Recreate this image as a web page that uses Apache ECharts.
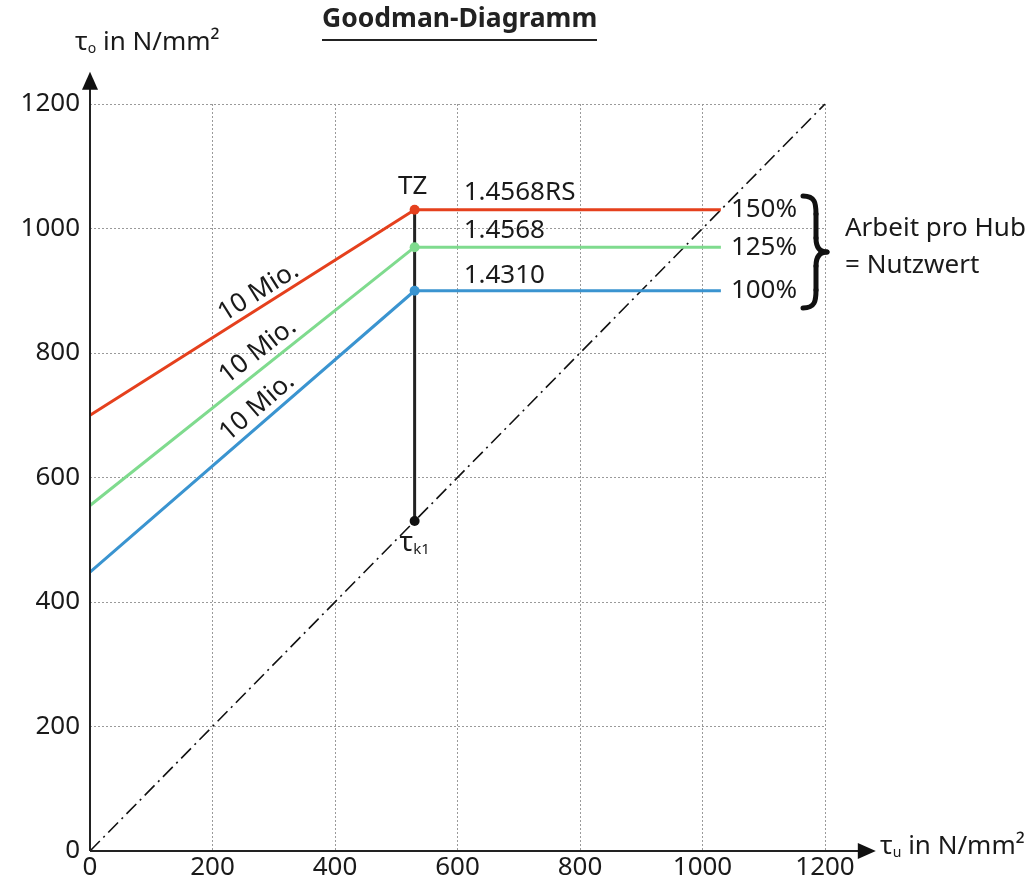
<!DOCTYPE html>
<html><head><meta charset="utf-8">
<script src="https://cdn.jsdelivr.net/npm/echarts@6/dist/echarts.min.js"></script>
<style>html,body{margin:0;padding:0;background:#fff}#c{width:1030px;height:884px}</style>
</head><body><div id="c"></div>
<script>
// ---- data ----
const xTicks = [0, 200, 400, 600, 800, 1000, 1200];
const yTicks = [0, 200, 400, 600, 800, 1000, 1200];
const redLine   = [[0, 700], [530, 1030], [1030, 1030]];
const greenLine = [[0, 555], [530, 970],  [1030, 970]];
const blueLine  = [[0, 448], [530, 900],  [1030, 900]];
const tzLine    = [[530, 1030], [530, 530]];
const diagonal  = [[0, 0], [1200, 1200]];
const levelLabels = ['150%', '125%', '100%'];
const cycleLabels = ['10 Mio.', '10 Mio.', '10 Mio.'];
const valueLabels = ['1.4568RS', '1.4568', '1.4310'];
const colors = ['#e5401d', '#7fdb8e', '#3a94d0'];

const FONT = 'Noto Sans';
const TXT = '#1a1a1a';
const FS = 26;

const chart = echarts.init(document.getElementById('c'), null, {renderer: 'canvas'});

function lineSeries(data, color, level) {
  return {
    type: 'line', data: data, z: 5,
    lineStyle: {color: color, width: 3},
    itemStyle: {color: color},
    symbol: 'circle', showAllSymbol: true,
    symbolSize: (v, p) => p.dataIndex === 1 ? 10 : 0,
    animation: false, clip: false,
    endLabel: {show: true, formatter: level, color: TXT, fontFamily: FONT, fontSize: FS, distance: 10}
  };
}

const sets = [redLine, greenLine, blueLine];
const series = sets.map((d, i) => lineSeries(d, colors[i], levelLabels[i]));

series.push({
  type: 'line', data: diagonal, z: 3, symbol: 'none', animation: false,
  lineStyle: {color: '#111', width: 1.6, type: [14, 5, 2, 5]}
});
series.push({
  type: 'line', data: tzLine, z: 4, animation: false,
  lineStyle: {color: '#222', width: 3},
  itemStyle: {color: '#111'},
  symbol: 'circle', showAllSymbol: true,
  symbolSize: (v, p) => p.dataIndex === 1 ? 10 : 0,
  label: {
    show: true, position: 'bottom', distance: 3,
    formatter: p => p.dataIndex === 1 ? '{t|τ}{k|k1}' : '',
    rich: {t: {fontSize: 28, fontFamily: FONT, color: TXT}, k: {fontSize: 15, fontFamily: FONT, color: TXT, verticalAlign: 'bottom', padding: [8, 0, 0, 0]}}
  }
});

// text annotations (positions in data space)
const annotations = [
  {value: [527, 1068], text: 'TZ', rot: 0, align: 'center'},
  {value: [610, 1057], text: valueLabels[0], rot: 0, align: 'left'},
  {value: [610, 996],  text: valueLabels[1], rot: 0, align: 'left'},
  {value: [610, 924],  text: valueLabels[2], rot: 0, align: 'left'},
  {value: [275, 898],  text: cycleLabels[0], rot: 32, align: 'center'},
  {value: [274, 803],  text: cycleLabels[1], rot: 38, align: 'center'},
  {value: [273, 713],  text: cycleLabels[2], rot: 41, align: 'center'}
];
series.push({
  type: 'scatter', symbolSize: 0, z: 10, animation: false, silent: true,
  itemStyle: {opacity: 1},
  data: annotations.map(a => ({
    value: a.value,
    label: {show: true, position: 'inside', formatter: a.text, rotate: a.rot, align: a.align,
            verticalAlign: 'middle', color: TXT, fontFamily: FONT, fontSize: FS}
  }))
});

const axisCommon = {
  type: 'value', min: 0, max: 1200, interval: 200,
  axisLine: {show: false}, axisTick: {show: false},
  splitLine: {show: true, lineStyle: {color: '#9a9a9a', width: 1, type: [2, 2]}},
  axisLabel: {color: TXT, fontFamily: FONT, fontSize: FS}
};

chart.setOption({
  backgroundColor: '#fff',
  animation: false,
  grid: {left: 90, right: 205, top: 104, bottom: 33, containLabel: false},
  xAxis: Object.assign({}, axisCommon, {axisLabel: Object.assign({}, axisCommon.axisLabel, {margin: 4,
    formatter: v => xTicks.includes(v) ? String(v) : ''})}),
  yAxis: Object.assign({}, axisCommon, {axisLabel: Object.assign({}, axisCommon.axisLabel, {margin: 10,
    formatter: v => yTicks.includes(v) ? String(v) : ''})}),
  series: series
});

// axes with arrows + decorations, positioned through the chart's scales
const o = chart.convertToPixel({gridIndex: 0}, [0, 0]);
const yTip = chart.convertToPixel({gridIndex: 0}, [0, 1252]);
const xTip = chart.convertToPixel({gridIndex: 0}, [1283, 0]);
const AX = '#222';
const braceStyle = {stroke: '#111', lineWidth: 5, fill: null, lineCap: 'round'};
const richName = {
  t: {fontSize: FS, fontFamily: FONT, fill: TXT},
  s: {fontSize: 14, fontFamily: FONT, fill: TXT, verticalAlign: 'bottom', padding: [9, 0, 0, 0]}
};
chart.setOption({
  graphic: [
    {type: 'line', shape: {x1: o[0], y1: o[1], x2: o[0], y2: yTip[1] + 16}, style: {stroke: AX, lineWidth: 2}, z: 20},
    {type: 'polygon', shape: {points: [[o[0], yTip[1]], [o[0] - 8, yTip[1] + 18], [o[0] + 8, yTip[1] + 18]]}, style: {fill: '#111'}, z: 20},
    {type: 'line', shape: {x1: o[0], y1: o[1], x2: xTip[0] - 16, y2: o[1]}, style: {stroke: AX, lineWidth: 2}, z: 20},
    {type: 'polygon', shape: {points: [[xTip[0], o[1]], [xTip[0] - 18, o[1] - 8], [xTip[0] - 18, o[1] + 8]]}, style: {fill: '#111'}, z: 20},
    // axis names
    {type: 'text', x: 75, y: 30, z: 20, style: {text: '{t|τ}{s|o}{t| in N/mm²}', rich: richName}},
    {type: 'text', x: 880, y: 834, z: 20, style: {text: '{t|τ}{s|u}{t| in N/mm²}', rich: richName}},
    // title with underline
    {type: 'text', x: 322, y: 6, z: 20, style: {text: 'Goodman-Diagramm', fontFamily: FONT, fontSize: 26.5, fontWeight: 'bold', fill: '#222'}},
    {type: 'rect', shape: {x: 322, y: 39, width: 275, height: 2}, style: {fill: '#222'}, z: 20},
    // brace
    {type: 'bezierCurve', z: 20, shape: {x1: 803, y1: 196, cpx1: 815, cpy1: 196, cpx2: 816, cpy2: 203, x2: 816, y2: 214}, style: braceStyle},
    {type: 'line', z: 20, shape: {x1: 816, y1: 214, x2: 816, y2: 238}, style: braceStyle},
    {type: 'bezierCurve', z: 20, shape: {x1: 816, y1: 238, cpx1: 816, cpy1: 248, cpx2: 820, cpy2: 252, x2: 827, y2: 252}, style: braceStyle},
    {type: 'bezierCurve', z: 20, shape: {x1: 827, y1: 252, cpx1: 820, cpy1: 252, cpx2: 816, cpy2: 256, x2: 816, y2: 266}, style: braceStyle},
    {type: 'line', z: 20, shape: {x1: 816, y1: 266, x2: 816, y2: 290}, style: braceStyle},
    {type: 'bezierCurve', z: 20, shape: {x1: 816, y1: 290, cpx1: 816, cpy1: 301, cpx2: 815, cpy2: 308, x2: 803, y2: 308}, style: braceStyle},
    // note
    {type: 'text', x: 845, y: 210, z: 20, style: {text: 'Arbeit pro Hub\n= Nutzwert', fontFamily: FONT, fontSize: FS, lineHeight: 37, fill: TXT}}
  ]
});
</script>
</body></html>
